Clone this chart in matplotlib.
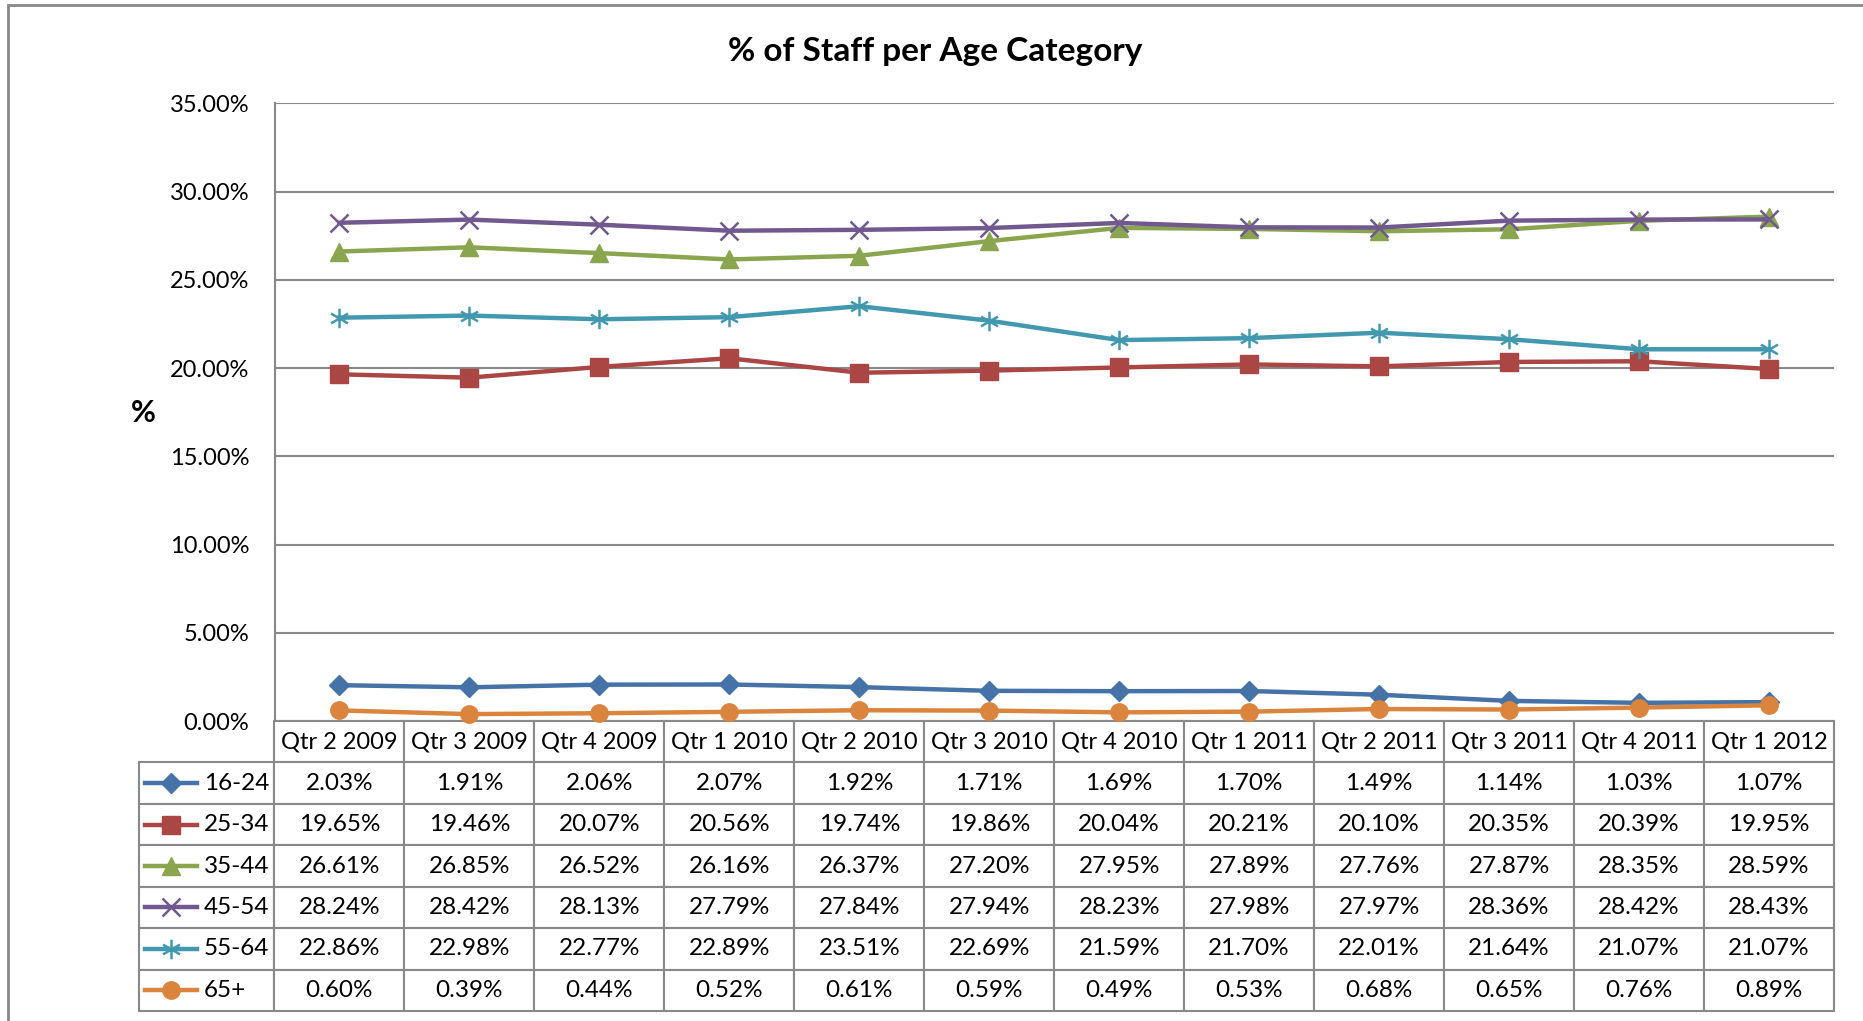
import matplotlib
matplotlib.use("Agg")
import matplotlib.pyplot as plt
import numpy as np
from matplotlib.path import Path
from matplotlib.patches import Rectangle

plt.rcParams['font.family'] = ['Lato', 'DejaVu Sans']

# ---------------------------------------------------------------- data ----
quarters = ['Qtr 2 2009', 'Qtr 3 2009', 'Qtr 4 2009', 'Qtr 1 2010', 'Qtr 2 2010',
            'Qtr 3 2010', 'Qtr 4 2010', 'Qtr 1 2011', 'Qtr 2 2011', 'Qtr 3 2011',
            'Qtr 4 2011', 'Qtr 1 2012']
age_groups = ['16-24', '25-34', '35-44', '45-54', '55-64', '65+']

age_16_24 = [2.03, 1.91, 2.06, 2.07, 1.92, 1.71, 1.69, 1.70, 1.49, 1.14, 1.03, 1.07]
age_25_34 = [19.65, 19.46, 20.07, 20.56, 19.74, 19.86, 20.04, 20.21, 20.10, 20.35, 20.39, 19.95]
age_35_44 = [26.61, 26.85, 26.52, 26.16, 26.37, 27.20, 27.95, 27.89, 27.76, 27.87, 28.35, 28.59]
age_45_54 = [28.24, 28.42, 28.13, 27.79, 27.84, 27.94, 28.23, 27.98, 27.97, 28.36, 28.42, 28.43]
age_55_64 = [22.86, 22.98, 22.77, 22.89, 23.51, 22.69, 21.59, 21.70, 22.01, 21.64, 21.07, 21.07]
age_65_plus = [0.60, 0.39, 0.44, 0.52, 0.61, 0.59, 0.49, 0.53, 0.68, 0.65, 0.76, 0.89]

y_ticks = [0, 5, 10, 15, 20, 25, 30, 35]
y_tick_labels = ['0.00%', '5.00%', '10.00%', '15.00%', '20.00%', '25.00%', '30.00%', '35.00%']

series = [age_16_24, age_25_34, age_35_44, age_45_54, age_55_64, age_65_plus]

# ---------------------------------------------------------------- style ----
colors = ['#4572A7', '#AA4643', '#89A54E', '#71588F', '#4198AF', '#DB843D']
asterisk = Path([(0, -1), (0, 1), (-0.87, -0.5), (0.87, 0.5), (-0.87, 0.5), (0.87, -0.5)],
                [Path.MOVETO, Path.LINETO, Path.MOVETO, Path.LINETO, Path.MOVETO, Path.LINETO])
markers = ['D', 's', '^', 'x', asterisk, 'o']
msizes = [10, 13, 13.5, 13, 14, 12.5]
open_marker = [False, False, False, True, True, False]
GRID = '#898989'

W, H = 1863, 1021
fig = plt.figure(figsize=(W / 100, H / 100), dpi=100)

# axes box in pixels
left_px, right_px, top_px, bot_px = 274.5, 1834, 103.5, 721
ax = fig.add_axes([left_px / W, 1 - bot_px / H, (right_px - left_px) / W, (bot_px - top_px) / H])

x = np.arange(len(quarters))
for vals, c, m, ms, op in zip(series, colors, markers, msizes, open_marker):
    if op:
        ax.plot(x, vals, color=c, lw=3.2, marker=m, ms=ms, mew=1.8,
                mec=c, mfc='none', clip_on=False, zorder=3)
    else:
        ax.plot(x, vals, color=c, lw=3.2, marker=m, ms=ms, mec=c, mfc=c,
                clip_on=False, zorder=3)

ax.set_xlim(-0.5, len(quarters) - 0.5)
ax.set_ylim(0, 35)
ax.set_yticks(y_ticks)
ax.set_yticklabels(y_tick_labels, fontsize=17)
ax.set_xticks([])
ax.tick_params(axis='y', length=0, pad=18)
ax.grid(axis='y', color=GRID, lw=1.5)
ax.set_axisbelow(True)
for s in ['top', 'right', 'bottom']:
    ax.spines[s].set_visible(False)
ax.spines['left'].set_color(GRID)
ax.spines['left'].set_linewidth(1.5)

ax.set_ylabel('%', rotation=0, fontsize=22, fontweight='bold', labelpad=0,
              ha='center', va='center')
ax.yaxis.set_label_coords((143 - left_px) / (right_px - left_px), (bot_px - 413) / (bot_px - top_px))

fig.text(935 / W, 1 - 51 / H, '% of Staff per Age Category', ha='center', va='center',
         fontsize=24, fontweight='bold')

# ---------------------------------------------------------------- data table ----
ax_w = right_px - left_px
ax_h = bot_px - top_px
table_left = 139
table_bot = 1011
row_lab_w = (left_px - table_left) / ax_w
tab_h = (table_bot - bot_px) / ax_h

cell_text = [['%.2f%%' % v for v in vals] for vals in series]
# bbox covers the data columns only; row labels hang off to the left
tbl = ax.table(cellText=cell_text, rowLabels=age_groups, colLabels=quarters,
               colWidths=[1 / len(quarters)] * len(quarters),
               cellLoc='center', rowLoc='left',
               bbox=[0, -tab_h, 1, tab_h])
tbl._autoColumns = []
tbl.auto_set_font_size(False)
tbl.set_fontsize(17.5)
for (r, c), cell in tbl.get_celld().items():
    cell.set_edgecolor(GRID)
    cell.set_linewidth(1.5)
    if r == 0:
        cell.get_text().set_fontsize(17)
    if c == -1:
        cell.set_width(row_lab_w)
        cell.PAD = 0.48

# legend keys inside row label cells
n_rows = len(age_groups) + 1
row_h = tab_h / n_rows
x0 = (145 - left_px) / ax_w
x1 = (197 - left_px) / ax_w
xm = (x0 + x1) / 2
for i, (c, m, ms, op) in enumerate(zip(colors, markers, msizes, open_marker)):
    yc = -(i + 1.5) * row_h
    ax.plot([x0, x1], [yc, yc], color=c, lw=3.2, transform=ax.transAxes, clip_on=False)
    if op:
        ax.plot([xm], [yc], color=c, marker=m, ms=ms, mew=1.8, mec=c, mfc='none',
                transform=ax.transAxes, clip_on=False)
    else:
        ax.plot([xm], [yc], color=c, marker=m, ms=ms, mec=c, mfc=c,
                transform=ax.transAxes, clip_on=False)

# outer chart frame
fig.patches.append(Rectangle((8 / W, -0.1), 1.2, 1 - 5 / H + 0.1, transform=fig.transFigure,
                             fill=False, edgecolor=GRID, lw=2))

fig.savefig('out.png', dpi=100)
